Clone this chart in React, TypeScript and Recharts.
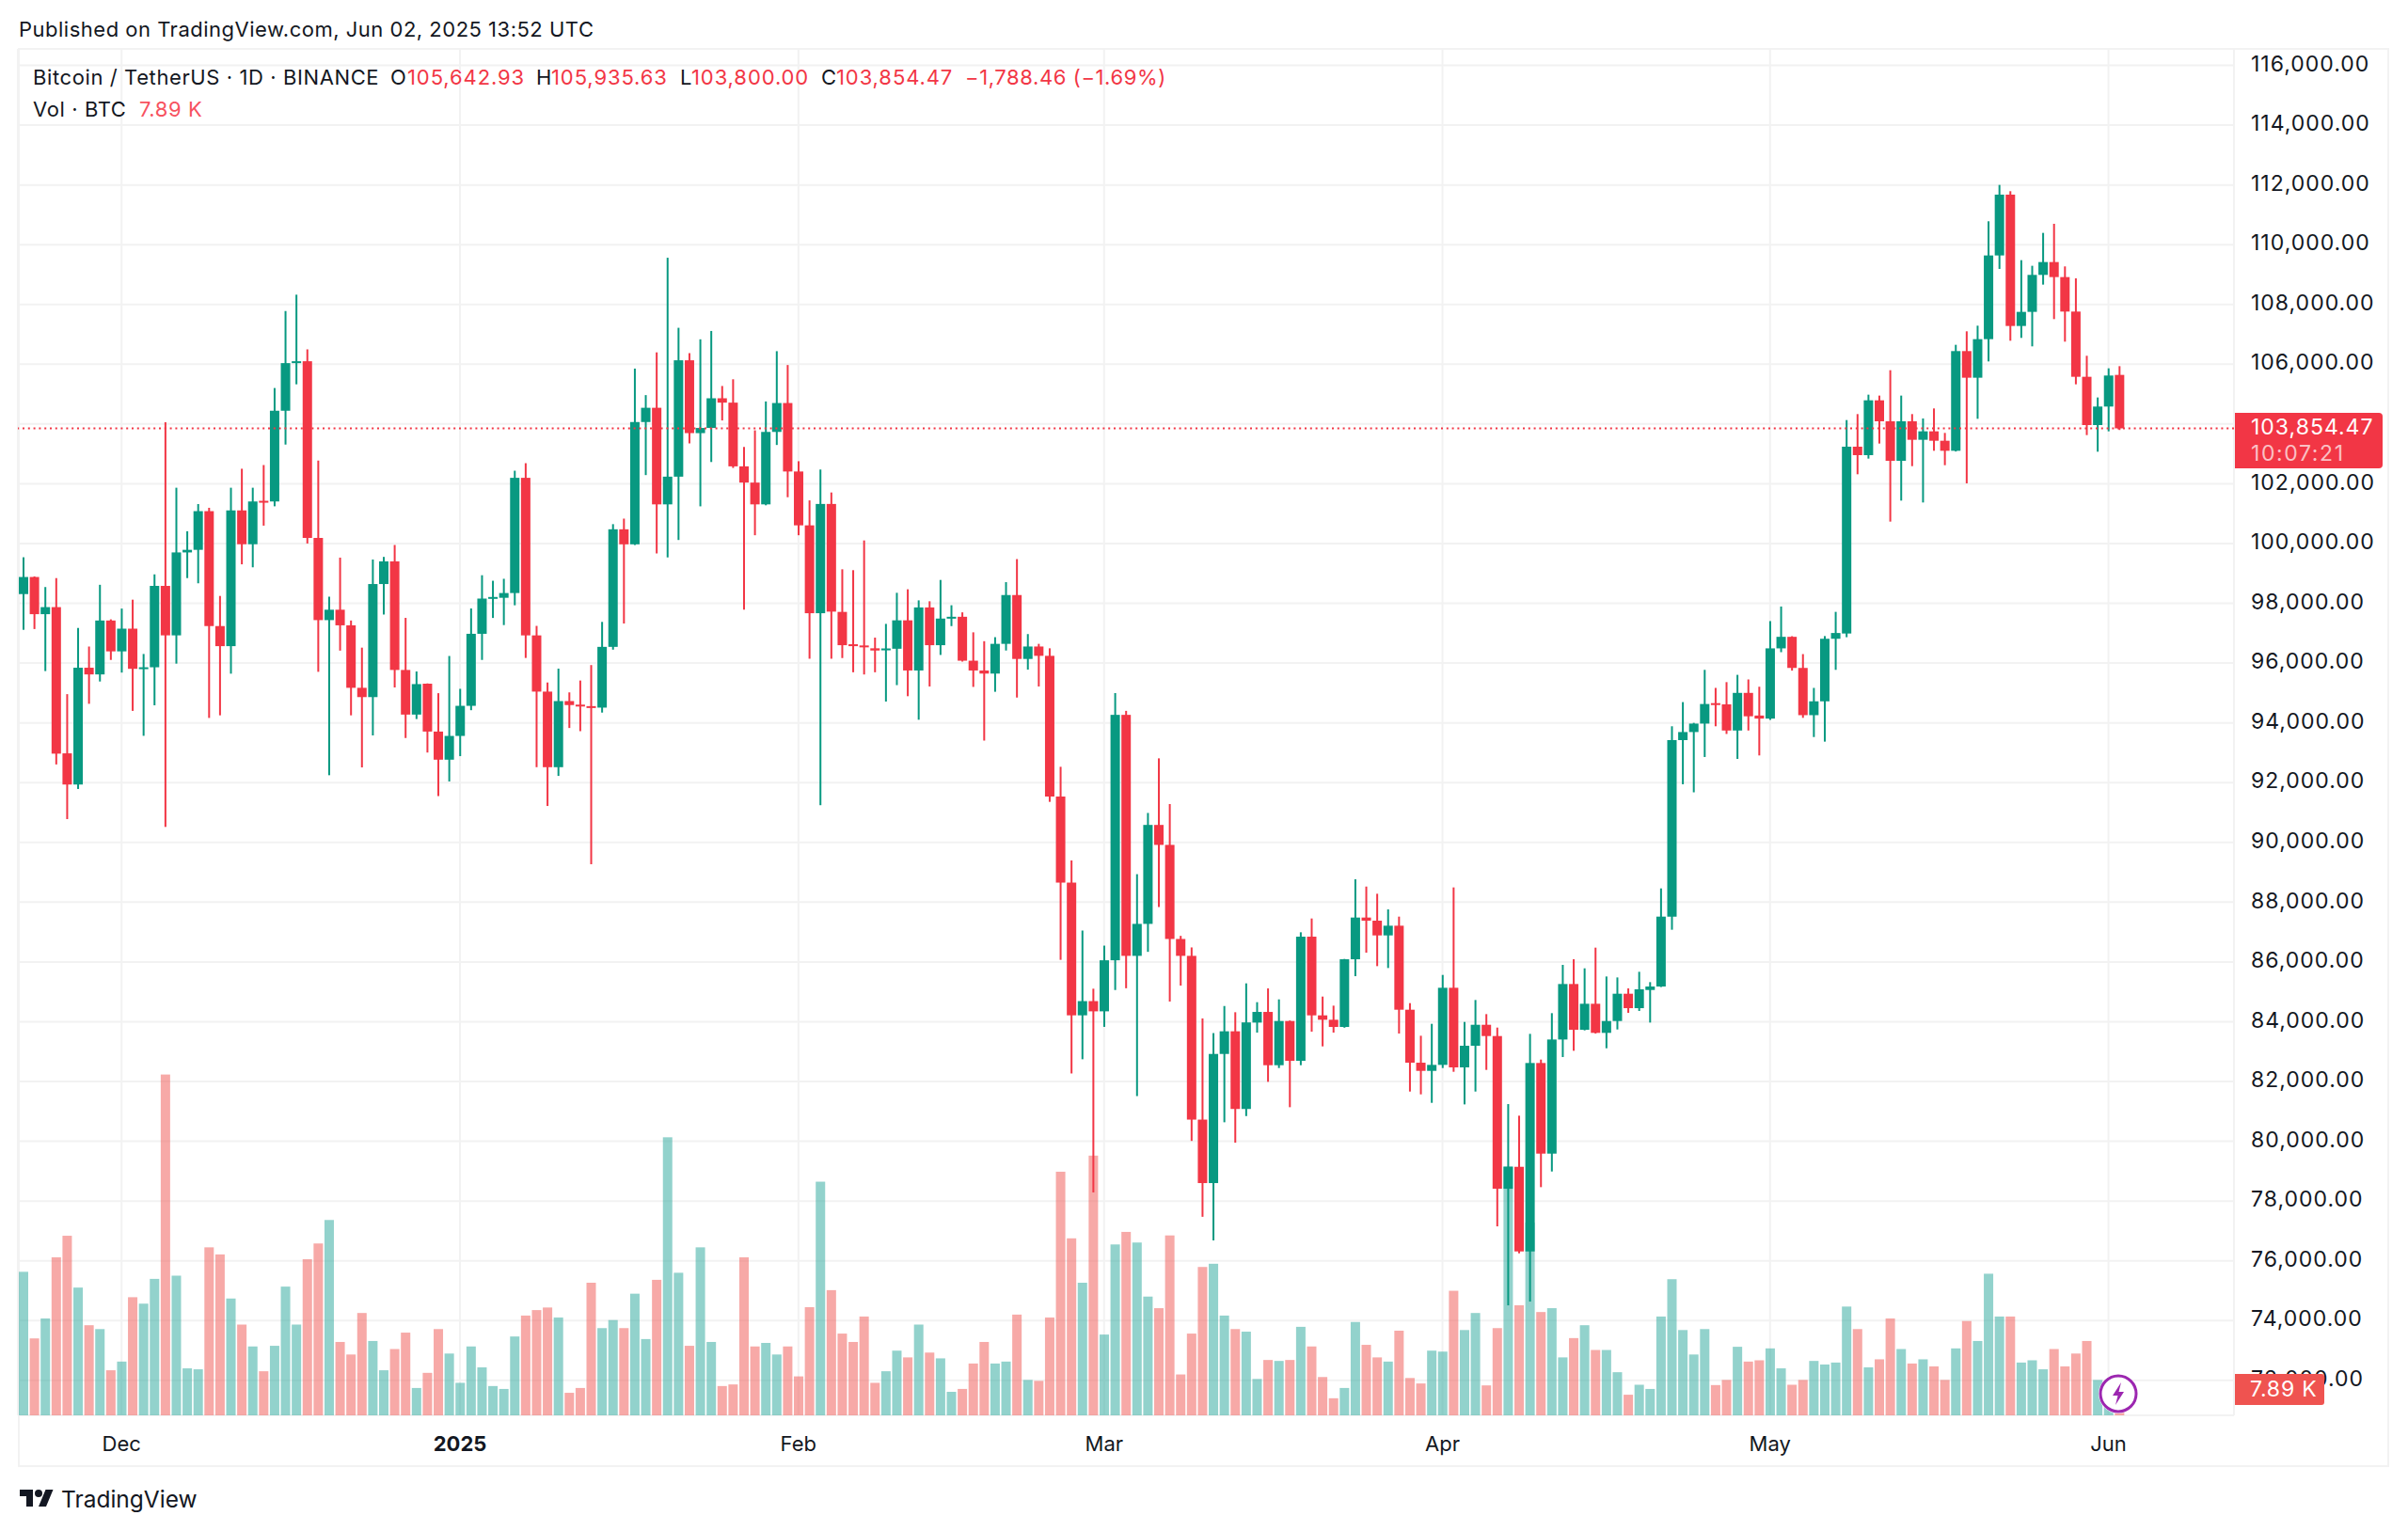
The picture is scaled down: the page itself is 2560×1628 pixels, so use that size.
import React from "react";
import { ComposedChart, Bar, XAxis, YAxis, CartesianGrid, ReferenceLine } from "recharts";

const monthSpans: [string, number, number][] = [
  ["2024-11", 22, 30], ["2024-12", 1, 31], ["2025-01", 1, 31], ["2025-02", 1, 28],
  ["2025-03", 1, 31], ["2025-04", 1, 30], ["2025-05", 1, 31], ["2025-06", 1, 12],
];
const categories: string[] = monthSpans.flatMap(([m, a, b]) => {
  const out: string[] = [];
  for (let d = a; d <= b; d++) out.push(`${m}-${String(d).padStart(2, "0")}`);
  return out;
});

const opens = [98309,98881,97637,97873,92980,91937,95845,95621,97425,96392,97152,95810,95860,98583,96928,99703,99790,101084,97239,96567,101109,99977,101430,101408,104444,106037,106100,100188,97438,97786,97264,95173,94862,98645,99404,95770,94277,95311,93709,92768,93563,94570,96980,98159,98185,98344,102199,96927,95046,92517,94729,94610,94560,94510,96543,100477,99974,104066,104543,101311,102238,106132,103695,103868,104861,104715,102583,102040,101311,103735,104702,102411,100609,97669,101325,97713,96630,96590,96495,96440,96480,97431,95753,97862,96599,97500,97550,96080,95753,95649,96644,98277,96139,96555,96243,91535,88655,84214,84690,84348,86056,94268,86204,87274,90585,89917,86769,86204,80725,78601,82922,83680,81081,83972,84328,82545,84024,82692,86846,84213,84066,83825,86090,87486,87381,86888,87213,84402,82629,82356,82556,85136,82472,83196,83898,83521,78412,79146,76314,82619,79587,83405,85262,83731,84601,83627,84024,84937,84454,85062,85178,87515,93423,93693,93976,94660,94620,93744,95003,94245,94143,96493,96879,95838,94258,94721,96814,96990,103241,102958,104793,104091,102769,104091,103472,103755,103440,103104,106440,105549,106839,109640,111675,107280,107752,108989,109419,108916,107762,105580,103965,104584,105642.93];
const closes = [98881,97637,97873,92970,91937,95845,95621,97425,96392,97152,95808,95860,98583,96928,99703,99790,101084,97239,96567,101109,99977,101408,101390,104444,106037,106100,100188,97438,97786,97264,95173,94862,98645,99404,95770,94277,95297,93709,92768,93563,94570,96980,98159,98212,98344,102199,96927,95046,92517,94729,94596,94560,94510,96543,100477,99974,104066,104543,101311,102238,106132,103695,103868,104861,104715,102583,102040,101311,103735,104702,102411,100609,97669,101325,97722,96599,96590,96550,96421,96490,97431,95753,97862,96599,97490,97550,96080,95753,95649,96644,98277,96139,96555,96243,91535,88655,84214,84690,84348,86056,94268,86204,87274,90585,89917,86769,86204,80725,78601,82922,83680,81081,83977,84328,82545,84024,82692,86846,84213,84066,83825,86090,87486,87381,86888,87213,84402,82629,82356,82556,85136,82472,83196,83898,83521,78412,79146,76314,82619,79587,83405,85262,83731,84601,83627,84024,84937,84454,85084,85178,87517,93423,93693,93976,94631,94610,93744,95003,94220,94143,96493,96879,95838,94258,94721,96814,97007,103241,102958,104793,104091,102769,104091,103472,103755,103440,103104,106440,105549,106839,109640,111675,107280,107752,108989,109419,108916,107762,105580,103965,104584,105622,103854.47];
const highs = [99541,98900,98545,98844,94961,97176,96554,98620,97463,97824,98122,96305,98969,104059,101868,100412,101321,101196,98247,101868,102503,101868,102627,105204,107780,108327,106498,102777,98222,99529,97425,96517,99466,99553,99952,97513,95720,95320,94993,96238,95139,97828,98940,98755,98821,102437,102689,97245,95351,95815,95020,95417,95934,97378,100649,100834,105854,104967,106397,109563,107219,106371,106834,107113,105272,105497,103232,103788,104755,106437,105974,102755,101444,102477,101709,99139,99109,100104,96852,97312,98352,98470,98099,98069,98782,97936,97698,97030,96733,96867,98708,99480,96971,96644,96495,92530,89397,87051,85105,86546,94996,94402,88937,90986,92813,91283,86873,86486,84110,83620,84526,84318,85284,84654,85115,84748,84040,86993,87455,84842,84538,86101,88766,88523,88282,87759,87517,84622,83531,83930,85566,88494,83993,84727,84255,83804,81244,80856,83594,82734,84287,85902,86091,85787,86479,85514,85482,85115,85671,85325,88461,93886,94695,94000,95774,95170,95363,95607,95453,95209,97405,97893,96900,96301,95170,96904,97714,104132,104332,104982,104951,105800,104951,104332,104185,104521,103702,106650,107101,107290,110783,112000,111790,109482,109294,110395,110699,109273,108874,106283,104888,105863,105935.63];
const lows = [97114,97139,95733,92609,90780,91788,94638,95384,96106,95683,94401,93567,94588,90518,95982,98844,98670,94165,94252,95646,99305,99205,100599,101246,103312,105328,100002,95708,92248,96417,94252,92510,93580,97625,95185,93493,94128,93007,91550,92040,92887,94424,96106,97510,97272,97934,96172,92517,91219,92225,93828,93722,89270,94344,96450,97325,99950,102291,99669,99536,100119,103351,101245,102728,104119,102530,97788,100278,101280,103298,101550,100278,96146,91245,96146,96169,95693,95619,95693,94713,95263,94892,94105,95218,96273,97238,96050,95203,93407,95040,96421,94847,95783,95218,91357,86071,82269,82744,78289,83828,85061,85120,81512,86338,87838,84675,85209,80012,77473,76683,80636,79952,80843,83636,81989,82451,81140,82545,83668,83175,83636,83800,85524,86311,85860,85797,83605,81664,81570,81286,82451,82325,81234,81664,82388,77153,74510,76251,74636,78465,78989,82818,83028,83710,83605,83112,83741,84297,84360,83972,85160,87078,91946,91676,92858,93886,93629,92794,93744,92910,94100,96365,95748,94168,93526,93372,95774,96866,102318,102842,103346,100734,101437,102590,101374,103104,102622,103080,102014,104174,106094,109189,106786,106881,106598,108664,107510,106755,105328,103629,103073,103755,103800];
const volumesK = [44.6,23.9,30.1,49.1,55.8,39.7,28.0,26.8,14.0,16.7,36.7,34.7,42.4,105.9,43.4,14.6,14.3,52.2,50.0,36.3,28.2,21.4,13.7,21.6,40.0,28.2,48.5,53.4,60.7,22.8,18.9,31.8,23.1,14.0,20.6,25.7,8.5,13.2,26.8,19.2,10.1,21.4,14.9,9.1,8.2,24.5,31.0,32.7,33.5,30.4,7.0,8.5,41.2,27.1,29.6,27.1,37.8,23.7,42.1,86.4,44.3,21.6,52.2,22.8,9.1,9.6,49.1,21.4,22.5,18.9,21.4,12.1,33.6,72.6,38.9,25.4,22.8,30.7,10.1,13.7,20.1,18.0,28.2,19.5,17.7,7.3,8.2,16.1,22.8,16.1,16.7,31.3,11.0,10.7,30.4,75.7,55.0,41.2,80.7,25.1,53.1,57.0,53.7,36.9,33.3,55.9,12.7,25.4,46.1,47.1,31.0,26.8,26.0,11.3,17.2,16.9,17.2,27.5,21.4,11.9,5.3,8.5,29.0,21.9,18.0,16.7,26.3,11.6,9.9,20.1,19.8,38.7,26.5,31.8,9.3,27.1,77.4,34.2,59.9,32.1,33.3,18.0,24.0,28.0,20.3,20.3,13.4,6.4,9.5,8.2,30.7,42.3,26.5,18.9,26.8,9.4,11.0,21.3,16.7,17.1,20.8,14.6,9.5,11.0,16.9,15.8,16.4,33.8,26.8,14.9,17.4,30.1,20.6,16.1,17.4,15.2,11.0,20.8,29.3,23.1,44.0,30.7,30.7,16.4,17.1,14.3,20.6,15.2,19.2,23.1,11.0,8.8,7.89];

const priceTicks = [72000,74000,76000,78000,80000,82000,84000,86000,88000,90000,92000,94000,96000,98000,100000,102000,104000,106000,108000,110000,112000,114000,116000];
const hiddenPriceLabel = 104000;
const timeTicks: Record<string, string> = {
  "2024-12-01": "Dec", "2025-01-01": "2025", "2025-02-01": "Feb", "2025-03-01": "Mar",
  "2025-04-01": "Apr", "2025-05-01": "May", "2025-06-01": "Jun",
};
const lastPrice = 103854.47;
const legendItems: [number, string, string, number][] = [
  [415, "O", "#131722", 0.9], [433, "105,642.93", "#F23645", 0.9], [570, "H", "#131722", 0.9], [586, "105,935.63", "#F23645", 0.9],
  [723, "L", "#131722", 0.9], [735, "103,800.00", "#F23645", 0.9], [873, "C", "#131722", 0.9], [889, "103,854.47", "#F23645", 0.9],
  [1026, "−1,788.46 (−1.69%)", "#F23645", 0.6],
];

const rows = categories.map((date, i) =>
  i < opens.length
    ? { date, open: opens[i], high: highs[i], low: lows[i], close: closes[i], range: [lows[i], highs[i]], vol: volumesK[i] }
    : { date }
);

const UP = "#089981";
const DOWN = "#F23645";
const FONT = "Inter, 'Noto Sans', sans-serif";
const TEXT = "#131722";

const Candle = (p: any) => {
  const { x, y, width, height, payload } = p;
  if (!payload || payload.open == null) return null;
  const mid = x + width / 2;
  const unit = height / (payload.high - payload.low);
  const at = (v: number) => y + (payload.high - v) * unit;
  const top = at(Math.max(payload.open, payload.close));
  const bot = at(Math.min(payload.open, payload.close));
  const c = payload.close >= payload.open ? UP : DOWN;
  return (
    <g>
      <rect x={mid - 1} y={y} width={2} height={height} fill={c} />
      <rect x={x} y={top} width={width} height={Math.max(2, bot - top)} fill={c} />
    </g>
  );
};

const VolumeBar = (p: any) => {
  const { x, y, width, height, payload } = p;
  if (!payload || payload.open == null) return null;
  const c = payload.close >= payload.open ? "rgba(38,166,154,0.5)" : "rgba(239,83,80,0.5)";
  return <rect x={x} y={y} width={width} height={height} fill={c} />;
};

const TimeTick = (p: any) => {
  const { x, y, payload } = p;
  const label = timeTicks[payload.value];
  return (
    <text x={x} y={y} dy={30} textAnchor="middle" fontFamily={FONT} fontSize={22} fontWeight={label === "2025" ? 700 : 400} fill={TEXT}>
      {label}
    </text>
  );
};

const Abs = ({ x, y, color, size = 22, spacing = 0.6, children }: any) => (
  <div style={{ position: "absolute", left: x, top: y, color, fontSize: size, letterSpacing: spacing, fontFamily: FONT, lineHeight: "28px", whiteSpace: "nowrap" }}>
    {children}
  </div>
);

export default function App() {
  return (
    <div style={{ position: "absolute", left: 0, top: 0, width: 2560, height: 1628, background: "#fff", overflow: "hidden" }}>
      <Abs x={20} y={17} color={TEXT} spacing={0.5}>Published on TradingView.com, Jun 02, 2025 13:52 UTC</Abs>
      <div style={{ position: "absolute", left: 19, top: 51, width: 2521, height: 1509, border: "2px solid #f2f2f2", boxSizing: "border-box" }} />
      <div style={{ position: "absolute", left: 0, top: 0 }}>
        <ComposedChart width={2560} height={1628} data={rows} margin={{ top: 52, right: 20, bottom: 93, left: 19 }} barCategoryGap={0}>
          <CartesianGrid xAxisId="main" yAxisId="price" stroke="#f2f2f2" strokeWidth={2} />
          <XAxis xAxisId="main" dataKey="date" type="category" ticks={Object.keys(timeTicks)} interval={0} height={30} axisLine={false} tickLine={false} tick={<TimeTick />} />
          <XAxis xAxisId="vol" dataKey="date" type="category" hide />
          <YAxis yAxisId="price" orientation="right" width={165} domain={[70830, 116551]} allowDataOverflow ticks={priceTicks} interval={0} axisLine={false} tickLine={false} tickSize={0} tickMargin={18}
            tick={{ fontFamily: FONT, fontSize: 23, letterSpacing: 1, fill: TEXT, dy: -2 }}
            tickFormatter={(v: number) => v === hiddenPriceLabel ? "" : v.toLocaleString("en-US", { minimumFractionDigits: 2, maximumFractionDigits: 2 })} />
          <YAxis yAxisId="volume" hide domain={[0, 424.6]} allowDataOverflow />
          <Bar xAxisId="vol" yAxisId="volume" dataKey="vol" barSize={10} shape={<VolumeBar />} isAnimationActive={false} />
          <Bar xAxisId="main" yAxisId="price" dataKey="range" barSize={10} shape={<Candle />} isAnimationActive={false} />
          <ReferenceLine xAxisId="main" yAxisId="price" y={lastPrice} stroke={DOWN} strokeWidth={2} strokeDasharray="2 3.8" />
        </ComposedChart>
      </div>

      <Abs x={35} y={68} color={TEXT}>Bitcoin / TetherUS · 1D · BINANCE</Abs>
      {legendItems.map(([x, t, c, s]) => <Abs key={t + x} x={x} y={68} color={c} spacing={s}>{t}</Abs>)}
      <Abs x={35} y={102} color={TEXT}>Vol · BTC</Abs>
      <Abs x={148} y={102} color="#F7525F">7.89 K</Abs>

      <div style={{ position: "absolute", left: 2376, top: 439, width: 157, height: 59, background: DOWN, borderRadius: "0 4px 4px 0" }} />
      <Abs x={2393} y={440} color="#fff" size={23} spacing={1}>103,854.47</Abs>
      <Abs x={2393} y={468} color="rgba(255,255,255,0.7)" size={23} spacing={1.6}>10:07:21</Abs>
      <div style={{ position: "absolute", left: 2376, top: 1461, width: 95, height: 33, background: "#EF5350", borderRadius: "0 3px 3px 0" }} />
      <Abs x={2392} y={1463} color="#fff" size={23} spacing={0.8}>7.89 K</Abs>

      <svg style={{ position: "absolute", left: 2228, top: 1458 }} width={48} height={48} viewBox="0 0 48 48">
        <circle cx={24} cy={24} r={21} fill="#fff" />
        <circle cx={24} cy={24} r={19} fill="#fff" stroke="#9C27B0" strokeWidth={3} />
        <path d="M27 12 L18 26 H23.5 L21 36 L30 22 H24.5 Z" fill="#9C27B0" />
      </svg>

      <svg style={{ position: "absolute", left: 19, top: 1580 }} width={40} height={28} viewBox="0 0 36 28">
        <path d="M14 22H7V11H0V4h14v18zM28 22h-8l7.5-18h8L28 22z" fill={TEXT} />
        <circle cx={20} cy={8} r={4} fill={TEXT} />
      </svg>
      <Abs x={65} y={1580} color={TEXT} size={24.5} spacing={0}>TradingView</Abs>
    </div>
  );
}
